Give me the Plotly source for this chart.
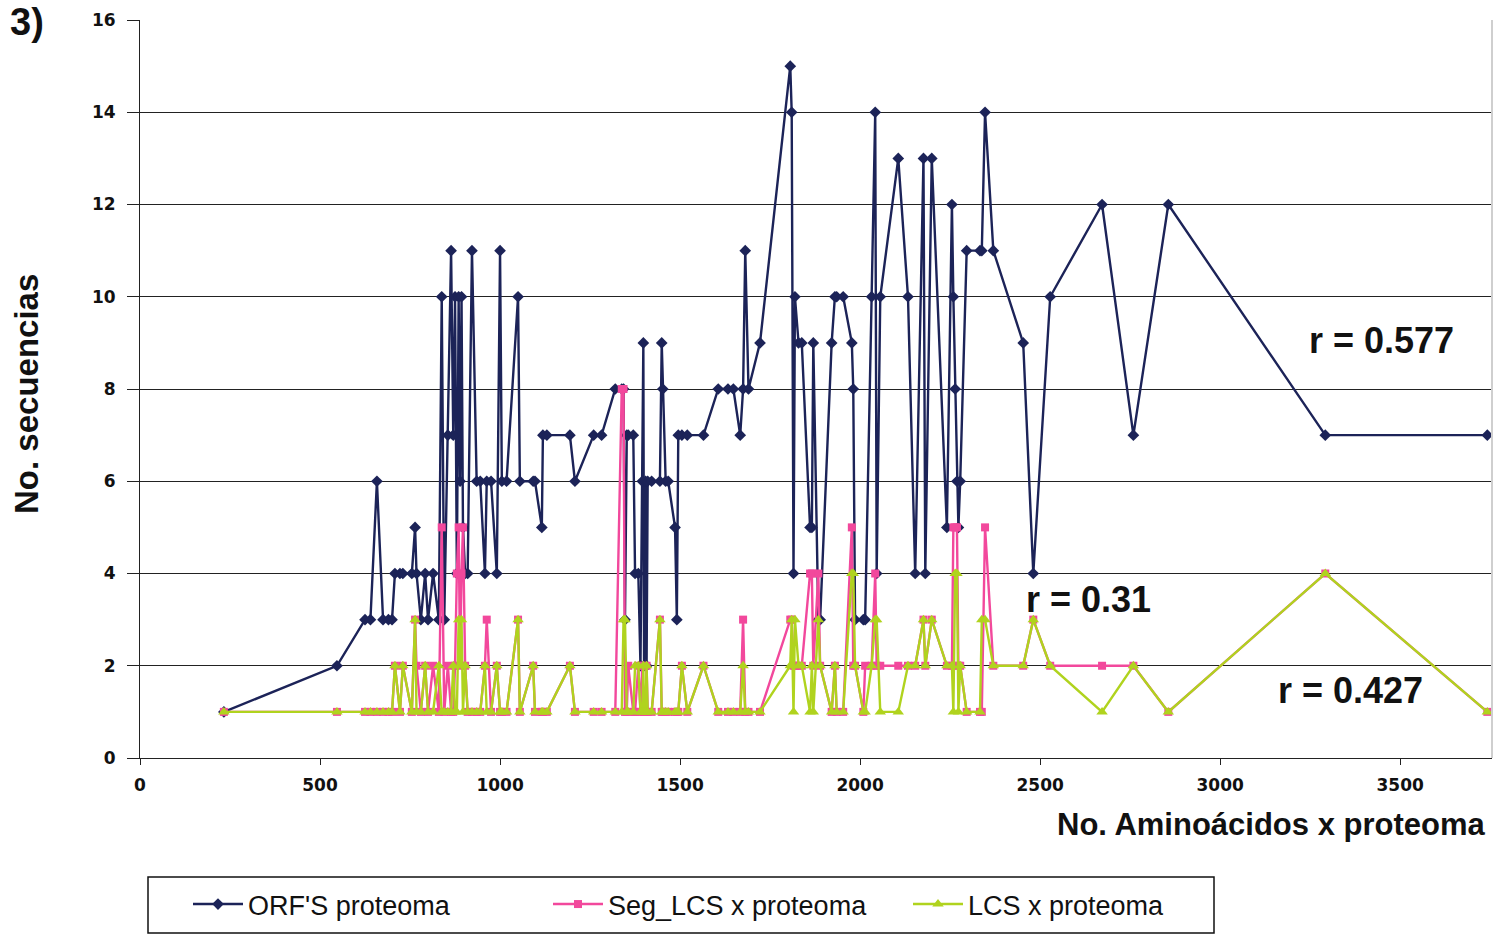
import plotly.graph_objects as go

# Number of amino acids per proteome (x), shared by the three series
aminoacidos = [233, 547, 625, 640, 658, 675, 690, 700, 708, 722, 730, 755, 764, 768, 780, 792,
               800, 814, 830, 838, 845, 855, 864, 870, 875, 880, 885, 889, 893, 897, 903, 910,
               922, 935, 945, 958, 963, 975, 991, 1000, 1005, 1018, 1050, 1055, 1092, 1097,
               1116, 1119, 1130, 1194, 1208, 1260, 1282, 1320, 1338, 1343, 1347, 1352, 1356,
               1370, 1375, 1384, 1390, 1395, 1398, 1400, 1404, 1407, 1410, 1421, 1444, 1449,
               1452, 1460, 1467, 1486, 1491, 1495, 1505, 1520, 1565, 1606, 1633, 1648, 1667,
               1675, 1681, 1690, 1722, 1806, 1810, 1815, 1819, 1829, 1838, 1861, 1866, 1870,
               1884, 1889, 1921, 1930, 1935, 1953, 1977, 1981, 1986, 2009, 2014, 2032, 2042,
               2046, 2056, 2106, 2133, 2153, 2176, 2181, 2199, 2241, 2255, 2259, 2264, 2269,
               2273, 2278, 2296, 2333, 2338, 2347, 2370, 2453, 2481, 2528, 2672, 2759, 2856,
               3292, 3742]

orfs = [1, 2, 3, 3, 6, 3, 3, 3, 4, 4, 4, 4, 5, 4, 3, 4,
        3, 4, 3, 10, 3, 7, 11, 7, 10, 4, 10, 6, 10, 5, 4, 4,
        11, 6, 6, 4, 6, 6, 4, 11, 6, 6, 10, 6, 6, 6,
        5, 7, 7, 7, 6, 7, 7, 8, 8, 8, 3, 7, 7,
        7, 4, 4, 2, 6, 9, 2, 6, 2, 6, 6, 6, 9,
        8, 6, 6, 5, 3, 7, 7, 7, 7, 8, 8, 8, 7,
        8, 11, 8, 9, 15, 14, 4, 10, 9, 9, 5, 5, 9,
        3, 3, 9, 10, 10, 10, 9, 8, 3, 3, 3, 10, 14,
        4, 10, 13, 10, 4, 13, 4, 13, 5, 12, 10, 8, 6,
        5, 6, 11, 11, 11, 14, 11, 9, 4, 10, 12, 7, 12,
        7, 7]

seg_lcs = [1, 1, 1, 1, 1, 1, 1, 1, 2, 1, 2, 1, 3, 2, 1, 2,
           1, 2, 1, 5, 1, 2, 1, 1, 2, 4, 5, 2, 4, 5, 2, 1,
           1, 1, 1, 2, 3, 1, 2, 1, 1, 1, 3, 1, 2, 1,
           1, 1, 1, 2, 1, 1, 1, 1, 8, 8, 1, 1, 2,
           1, 1, 2, 1, 2, 1, 1, 1, 2, 1, 1, 3, 1,
           1, 1, 1, 1, 1, 1, 2, 1, 2, 1, 1, 1, 1,
           3, 1, 1, 1, 3, 3, 2, 2, 2, 2, 4, 4, 2,
           4, 2, 1, 2, 1, 1, 5, 2, 2, 1, 2, 2, 4,
           2, 2, 2, 2, 2, 3, 2, 3, 2, 2, 5, 5, 5,
           2, 2, 1, 1, 1, 5, 2, 2, 3, 2, 2, 2, 1,
           4, 1]

lcs = [1, 1, 1, 1, 1, 1, 1, 1, 2, 1, 2, 1, 3, 1, 1, 2,
       1, 1, 2, 1, 1, 1, 1, 2, 1, 1, 3, 2, 3, 1, 2, 1,
       1, 1, 1, 2, 1, 1, 2, 1, 1, 1, 3, 1, 2, 1,
       1, 1, 1, 2, 1, 1, 1, 1, 1, 3, 3, 1, 1,
       1, 2, 2, 1, 1, 2, 1, 1, 2, 1, 1, 3, 1,
       1, 1, 1, 1, 1, 1, 2, 1, 2, 1, 1, 1, 1,
       2, 1, 1, 1, 2, 3, 1, 3, 2, 2, 1, 2, 1,
       3, 2, 1, 2, 1, 1, 4, 4, 2, 1, 1, 2, 3,
       3, 1, 1, 2, 2, 3, 2, 3, 2, 2, 1, 4, 4,
       1, 2, 1, 1, 3, 3, 2, 2, 3, 2, 1, 2, 1,
       4, 1]

series_names = ["ORF'S proteoma", "Seg_LCS x proteoma", "LCS x proteoma"]
x_ticks = [0, 500, 1000, 1500, 2000, 2500, 3000, 3500]
y_ticks = [0, 2, 4, 6, 8, 10, 12, 14, 16]
r_labels = ["r = 0.577", "r = 0.31", "r = 0.427"]

NAVY = "#1c2358"
PINK = "#f2489c"
GREEN = "#b0d31e"

W, H = 1505, 936
ML, MR, MT, MB = 140, 13, 20, 178
PW, PH = W - ML - MR, H - MT - MB


def px_x(px):
    return (px - ML) / PW


def px_y(py):
    return (H - MB - py) / PH


fig = go.Figure()
fig.add_trace(go.Scatter(x=aminoacidos, y=orfs, name=series_names[0], mode="lines+markers",
                         line=dict(color=NAVY, width=2.4),
                         marker=dict(symbol="diamond", size=9, color=NAVY)))
fig.add_trace(go.Scatter(x=aminoacidos, y=seg_lcs, name=series_names[1], mode="lines+markers",
                         line=dict(color=PINK, width=2.4),
                         marker=dict(symbol="square", size=8, color=PINK)))
fig.add_trace(go.Scatter(x=aminoacidos, y=lcs, name=series_names[2], mode="lines+markers",
                         line=dict(color=GREEN, width=2.4),
                         marker=dict(symbol="triangle-up", size=10, color=GREEN)))

tick_font = dict(family="DejaVu Sans", size=17, color="#111", weight="bold")

fig.update_layout(
    width=W, height=H,
    margin=dict(l=ML, r=MR, t=MT, b=MB, autoexpand=False),
    paper_bgcolor="white", plot_bgcolor="white",
    showlegend=True,
    legend=dict(orientation="h", x=px_x(188), xanchor="left", y=px_y(880), yanchor="top",
                borderwidth=0, bgcolor="rgba(0,0,0,0)",
                font=dict(family="Liberation Sans", size=27, color="#111"),
                entrywidth=295, entrywidthmode="pixels", itemwidth=50),
    xaxis=dict(range=[0, 3755], tickvals=x_ticks, ticktext=[str(v) for v in x_ticks],
               showgrid=False, zeroline=False, showline=True, linecolor="#222", linewidth=1,
               ticks="outside", ticklen=6, tickcolor="#222", tickfont=tick_font,
               ticklabelstandoff=6),
    yaxis=dict(range=[0, 16], tickvals=y_ticks, ticktext=[str(v) for v in y_ticks],
               showgrid=True, gridcolor="#222", gridwidth=1.2, zeroline=False,
               showline=True, linecolor="#222", linewidth=1,
               ticks="outside", ticklen=12, tickcolor="#222", tickfont=tick_font,
               ticklabelstandoff=8),
    shapes=[
        dict(type="rect", xref="paper", yref="paper", x0=px_x(148), x1=px_x(1214),
             y0=px_y(933), y1=px_y(877), line=dict(color="#111", width=1.5)),
        dict(type="line", xref="paper", yref="paper", x0=1, x1=1, y0=0, y1=1,
             line=dict(color="#cfcfcf", width=2)),
    ],
)

ann_font_big = dict(family="Liberation Sans", size=36, color="#111", weight="bold")
fig.add_annotation(x=3447, y=9.05, text=r_labels[0], showarrow=False, font=ann_font_big)
fig.add_annotation(x=2633, y=3.43, text=r_labels[1], showarrow=False, font=ann_font_big)
fig.add_annotation(x=3361, y=1.47, text=r_labels[2], showarrow=False, font=ann_font_big)

fig.add_annotation(xref="paper", yref="paper", x=px_x(1488), y=px_y(825), xanchor="right", yanchor="middle",
                   text="No. Aminoácidos x proteoma", showarrow=False,
                   font=dict(family="Liberation Sans", size=31, color="#111", weight="bold"))
fig.add_annotation(xref="paper", yref="paper", x=px_x(26), y=px_y(394), xanchor="center", yanchor="middle",
                   text="No. secuencias", textangle=-90, showarrow=False,
                   font=dict(family="Liberation Sans", size=33, color="#111", weight="bold"))
fig.add_annotation(xref="paper", yref="paper", x=px_x(8), y=px_y(22), xanchor="left", yanchor="middle",
                   text="3)", showarrow=False,
                   font=dict(family="Liberation Sans", size=38, color="#111", weight="bold"))

fig.write_html("out.html")
